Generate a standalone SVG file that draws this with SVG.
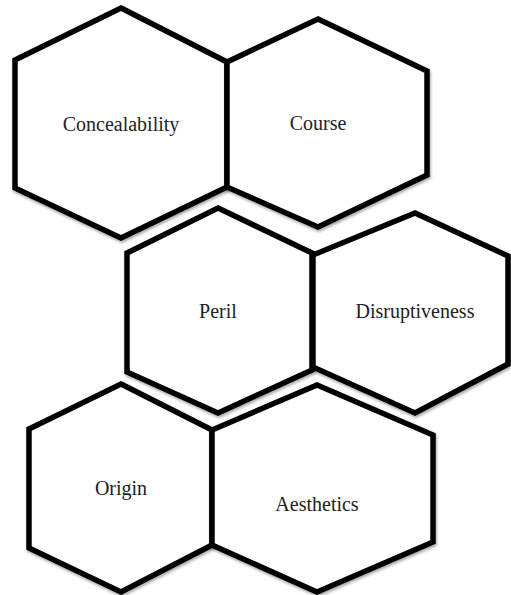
<svg xmlns="http://www.w3.org/2000/svg" width="511" height="595" viewBox="0 0 511 595">
<defs>
<filter id="sh" x="-10%" y="-10%" width="120%" height="120%">
<feGaussianBlur in="SourceAlpha" stdDeviation="1.5"/>
<feOffset dx="1" dy="2" result="b"/>
<feComponentTransfer><feFuncA type="linear" slope="0.35"/></feComponentTransfer>
<feMerge><feMergeNode/><feMergeNode in="SourceGraphic"/></feMerge>
</filter>
</defs>
<style>
.hex{fill:#ffffff;stroke:#000000;stroke-width:5.5;stroke-linejoin:miter;filter:url(#sh)}
.lbl{font-family:"Liberation Serif","Times New Roman",serif;font-size:20px;fill:#222222;text-anchor:middle}
</style>
<rect width="511" height="595" fill="#ffffff"/>
<g id="connectors"></g>
<g id="concealability">
<polygon class="hex" points="121,8 227,62 227,187 121,238 15,188 15,60"/>
<text class="lbl" x="121" y="131">Concealability</text>
</g>
<g id="course">
<polygon class="hex" points="318,19 427,71 427,175 318,227 227,187 227,62"/>
<text class="lbl" x="318" y="130">Course</text>
</g>
<g id="peril">
<polygon class="hex" points="218,208 312,253 312,370 218,413 127,372 127,253"/>
<text class="lbl" x="218" y="318">Peril</text>
</g>
<g id="disruptiveness">
<polygon class="hex" points="415,213 508,256 508,364 415,413 313,367 313,255"/>
<text class="lbl" x="415" y="318">Disruptiveness</text>
</g>
<g id="origin">
<polygon class="hex" points="121,384 212,430 212,545 121,592 29,548 29,429"/>
<text class="lbl" x="121" y="495">Origin</text>
</g>
<g id="aesthetics">
<polygon class="hex" points="317,385 433,435 433,542 317,592 212,545 212,430"/>
<text class="lbl" x="317" y="511">Aesthetics</text>
</g>
</svg>
